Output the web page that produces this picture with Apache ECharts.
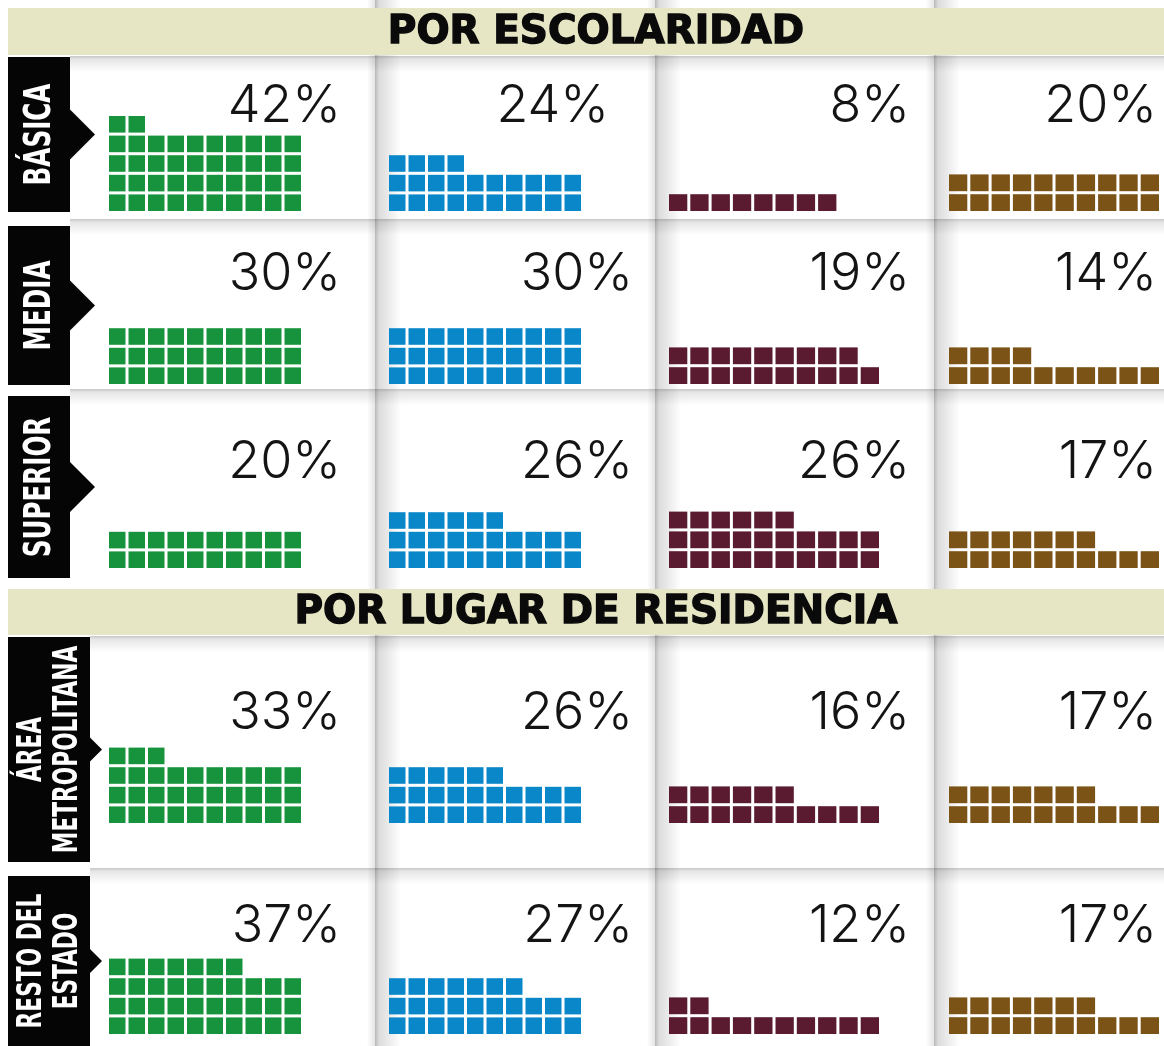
<!DOCTYPE html>
<html lang="es">
<head>
<meta charset="utf-8">
<title>Por escolaridad y lugar de residencia</title>
<script src="https://cdn.jsdelivr.net/npm/echarts@6/dist/echarts.min.js"></script>
<style>
  html, body { margin: 0; padding: 0; background: #fff; }
  #chart { width: 1164px; height: 1046px; }
</style>
</head>
<body>
<div id="chart"></div>
<script>
// ---- datos ----
const secciones = ['POR ESCOLARIDAD', 'POR LUGAR DE RESIDENCIA']
const filas = ['BÁSICA', 'MEDIA', 'SUPERIOR', 'ÁREA\nMETROPOLITANA', 'RESTO DEL\nESTADO']
const seccionDeFila = [0, 0, 0, 1, 1]
const colores = ['#17933d', '#0a87c8', '#5a1a30', '#7b5316']
const verde = [42, 30, 20, 33, 37]
const azul = [24, 30, 26, 26, 27]
const guinda = [8, 19, 26, 16, 12]
const cafe = [20, 14, 17, 17, 17]
const columnas = [verde, azul, guinda, cafe]

// ---- medidas (px) ----
const W = 1164, H = 1046
const GAP = 3
const gridLeft = [109, 389, 669, 949]
const pasoX = [19.5, 19.5, 21.3, 21.3]
const pasoY = [19.6, 19.6, 19.8, 19.8]
const filaBase = [211, 384, 568, 823, 1034]
const textoDer = [341, 633, 910, 1157]
const textoCentro = [106, 274, 462, 713, 926]
const ajusteTexto = { '0,1': -24 } // el 24% queda mas a la izquierda
const separadores = [375, 655, 934]
const filaTop = [56, 219, 389, 636, 868]
const banda = [[8, 55], [589, 635]]
const cajaTop = [57, 226, 396, 637, 876]
const cajaBottom = [212, 385, 578, 862, 1046]
const cajaDer = [70, 70, 70, 90, 90]
const flecha = [25, 25, 25, 12, 12]

// cuadritos: de abajo hacia arriba, 10 por renglon
function waffle(n) {
  let d = []
  for (let i = 0; i < n; i++) d.push([i % 10, Math.floor(i / 10)])
  return d
}

function cuadro(params, api) {
  const a = api.coord([api.value(0), api.value(1) + 1])
  const b = api.coord([api.value(0) + 1, api.value(1)])
  return {
    type: 'rect',
    shape: { x: a[0], y: a[1] + GAP, width: b[0] - a[0] - GAP, height: b[1] - a[1] - GAP },
    style: { fill: api.visual('color') }
  }
}

let grid = [], xAxis = [], yAxis = [], series = [], graphic = []

// fondo: sombras de columnas y renglones
separadores.forEach(x => {
  graphic.push({
    type: 'rect', z: 0, silent: true,
    shape: { x: x - 8, y: 0, width: 8, height: H },
    style: { fill: { type: 'linear', x: 0, y: 0, x2: 1, y2: 0, colorStops: [
      { offset: 0, color: 'rgba(0,0,0,0)' }, { offset: 1, color: 'rgba(0,0,0,0.10)' }] } }
  })
  graphic.push({
    type: 'rect', z: 0, silent: true,
    shape: { x: x, y: 0, width: 26, height: H },
    style: { fill: { type: 'linear', x: 0, y: 0, x2: 1, y2: 0, colorStops: [
      { offset: 0, color: 'rgba(0,0,0,0.28)' }, { offset: 0.15, color: 'rgba(0,0,0,0.14)' },
      { offset: 1, color: 'rgba(0,0,0,0)' }] } }
  })
})
filaTop.forEach((y, r) => {
  graphic.push({
    type: 'rect', z: 0, silent: true,
    shape: { x: cajaDer[r], y: y, width: W - cajaDer[r], height: 16 },
    style: { fill: { type: 'linear', x: 0, y: 0, x2: 0, y2: 1, colorStops: [
      { offset: 0, color: 'rgba(0,0,0,0.22)' }, { offset: 0.2, color: 'rgba(0,0,0,0.10)' },
      { offset: 1, color: 'rgba(0,0,0,0)' }] } }
  })
})

// bandas de titulo
secciones.forEach((t, s) => {
  graphic.push({
    type: 'rect', z: 5, silent: true,
    shape: { x: 8, y: banda[s][0], width: W - 8, height: banda[s][1] - banda[s][0] },
    style: { fill: '#e6e5c4' }
  })
  graphic.push({
    type: 'text', z: 6, silent: true,
    style: {
      text: t, x: 596, y: (banda[s][0] + banda[s][1]) / 2 + 1,
      textAlign: 'center', textVerticalAlign: 'middle',
      font: 'bold 39px "DejaVu Sans", sans-serif', fill: '#0a0a0a',
      stroke: '#0a0a0a', lineWidth: 1.4
    }
  })
})

// etiquetas de renglon (caja negra con flecha)
filas.forEach((nombre, r) => {
  const t = cajaTop[r], b = cajaBottom[r], x1 = cajaDer[r], m = (t + b) / 2, f = flecha[r]
  graphic.push({
    type: 'polygon', z: 5, silent: true,
    shape: { points: [[8, t], [x1, t], [x1, m - f], [x1 + f, m], [x1, m + f], [x1, b], [8, b]] },
    style: { fill: '#050505' }
  })
  const dos = seccionDeFila[r] === 1
  graphic.push({
    type: 'text', z: 6, silent: true,
    x: (8 + x1) / 2 + 1, y: m, rotation: Math.PI / 2, scaleX: dos ? 0.71 : 0.72,
    style: {
      text: nombre, x: 0, y: 0, textAlign: 'center', textVerticalAlign: 'middle',
      font: 'bold ' + (dos ? 34 : 38) + 'px "Liberation Sans Narrow", "DejaVu Sans Condensed", sans-serif',
      lineHeight: 36, fill: '#fff'
    }
  })
})

// celdas
let k = 0
filas.forEach((nombre, r) => {
  columnas.forEach((serie, c) => {
    const alto = 5 * pasoY[c]
    grid.push({ left: gridLeft[c], top: filaBase[r] - alto, width: 10 * pasoX[c], height: alto, show: false })
    xAxis.push({ gridIndex: k, type: 'value', min: 0, max: 10, show: false })
    yAxis.push({ gridIndex: k, type: 'value', min: 0, max: 5, show: false })
    series.push({
      type: 'custom', xAxisIndex: k, yAxisIndex: k, silent: true,
      itemStyle: { color: colores[c] },
      encode: { x: 0, y: 1 },
      renderItem: cuadro,
      data: waffle(serie[r])
    })
    graphic.push({
      type: 'text', z: 10, silent: true,
      style: {
        text: serie[r] + '%', x: textoDer[c] + (ajusteTexto[r + ',' + c] || 0), y: textoCentro[r],
        textAlign: 'right', textVerticalAlign: 'middle',
        font: '300 52px Inter, Lato, sans-serif', fill: '#141414'
      }
    })
    k++
  })
})

const chart = echarts.init(document.getElementById('chart'), null, { renderer: 'canvas' })
chart.setOption({
  animation: false,
  backgroundColor: '#fff',
  grid, xAxis, yAxis, series, graphic
})
window.addEventListener('resize', () => chart.resize())
</script>
</body>
</html>
